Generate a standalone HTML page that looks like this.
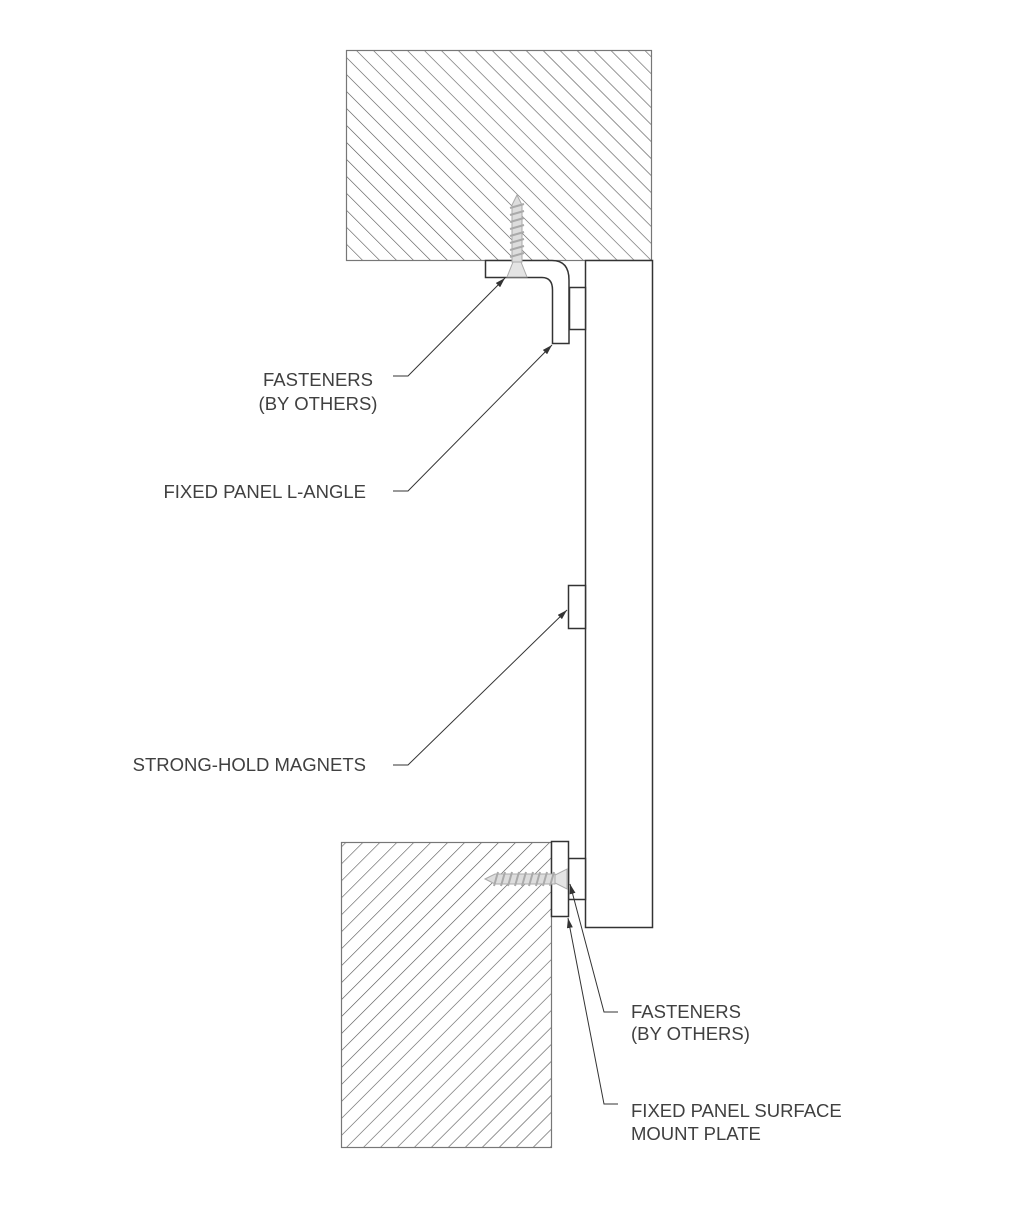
<!DOCTYPE html>
<html><head><meta charset="utf-8"><style>
html,body{margin:0;padding:0;background:#fff;}
svg{display:block}
text{font-family:"Liberation Sans",Arial,sans-serif;font-size:18.5px;fill:#404040;}
</style></head><body>
<svg width="1025" height="1225" viewBox="0 0 1025 1225" xmlns="http://www.w3.org/2000/svg">
<defs>
<pattern id="hA" patternUnits="userSpaceOnUse" width="12" height="12" patternTransform="rotate(-45)">
<line x1="0" y1="0" x2="0" y2="12" stroke="#555" stroke-width="1.2"/>
</pattern>
<pattern id="hB" patternUnits="userSpaceOnUse" width="12" height="12" patternTransform="rotate(45)">
<line x1="0" y1="0" x2="0" y2="12" stroke="#555" stroke-width="1.2"/>
</pattern>
<marker id="ar" markerWidth="10" markerHeight="6" refX="10" refY="3" orient="auto" markerUnits="userSpaceOnUse">
<path d="M0,0 L10,3 L0,6 Z" fill="#333"/>
</marker>
</defs>
<rect x="346.5" y="50.5" width="305" height="210" fill="url(#hA)" stroke="#777" stroke-width="1.2"/>
<rect x="341.5" y="842.5" width="210" height="305" fill="url(#hB)" stroke="#777" stroke-width="1.2"/>
<rect x="585.5" y="260.5" width="67" height="667" fill="#fff" stroke="#333" stroke-width="1.5"/>
<path d="M485.5,260.5 L552,260.5 Q569,260.5 569,280 L569,343.5 L552.5,343.5 L552.5,290 Q552.5,277.5 542,277.5 L485.5,277.5 Z" fill="#fff" stroke="#333" stroke-width="1.5"/>
<rect x="569.5" y="287.5" width="16" height="42" fill="#fff" stroke="#333" stroke-width="1.5"/>
<rect x="568.5" y="585.5" width="17" height="43" fill="#fff" stroke="#333" stroke-width="1.5"/>
<rect x="568.5" y="858.5" width="17" height="41" fill="#fff" stroke="#333" stroke-width="1.5"/>
<rect x="551.5" y="841.5" width="17" height="75" fill="#fff" stroke="#333" stroke-width="1.5"/>
<!-- top screw -->
<g stroke="#aaa" fill="none">
<path d="M517,195 L512,205 L512,262 L522,262 L522,205 Z" fill="#ddd"/>
<path d="M513,262 L521,262 L527,277 L507,277 Z" fill="#e4e4e4"/>
<g stroke-width="2">
<line x1="510" y1="208" x2="524" y2="204"/><line x1="510" y1="215" x2="524" y2="211"/><line x1="510" y1="222" x2="524" y2="218"/><line x1="510" y1="229" x2="524" y2="225"/><line x1="510" y1="236" x2="524" y2="232"/><line x1="510" y1="243" x2="524" y2="239"/><line x1="510" y1="250" x2="524" y2="246"/><line x1="510" y1="257" x2="524" y2="253"/>
</g></g>
<!-- bottom screw -->
<g stroke="#aaa" fill="none">
<path d="M485,879 L495,874 L555,874 L555,884 L495,884 Z" fill="#ddd"/>
<path d="M555,875 L555,883 L567,889 L567,869 Z" fill="#e4e4e4"/>
<g stroke-width="2">
<line x1="498" y1="872" x2="494" y2="886"/><line x1="505" y1="872" x2="501" y2="886"/><line x1="512" y1="872" x2="508" y2="886"/><line x1="519" y1="872" x2="515" y2="886"/><line x1="526" y1="872" x2="522" y2="886"/><line x1="533" y1="872" x2="529" y2="886"/><line x1="540" y1="872" x2="536" y2="886"/><line x1="547" y1="872" x2="543" y2="886"/><line x1="554" y1="872" x2="550" y2="886"/>
</g></g>
<g stroke="#333" stroke-width="1" fill="none">
<polyline points="393,376 408,376 505,278" marker-end="url(#ar)"/>
<polyline points="393,491 408,491 552,345" marker-end="url(#ar)"/>
<polyline points="393,765 408,765 567,610" marker-end="url(#ar)"/>
<polyline points="618,1012 604,1012 570,884" marker-end="url(#ar)"/>
<polyline points="618,1104 604,1104 568,918" marker-end="url(#ar)"/>
</g>
<text x="318" y="386" text-anchor="middle">FASTENERS</text>
<text x="318" y="410" text-anchor="middle">(BY OTHERS)</text>
<text x="366" y="498" text-anchor="end">FIXED PANEL L-ANGLE</text>
<text x="366" y="771" text-anchor="end">STRONG-HOLD MAGNETS</text>
<text x="631" y="1018">FASTENERS</text>
<text x="631" y="1040">(BY OTHERS)</text>
<text x="631" y="1117">FIXED PANEL SURFACE</text>
<text x="631" y="1140">MOUNT PLATE</text>
</svg>
</body></html>
